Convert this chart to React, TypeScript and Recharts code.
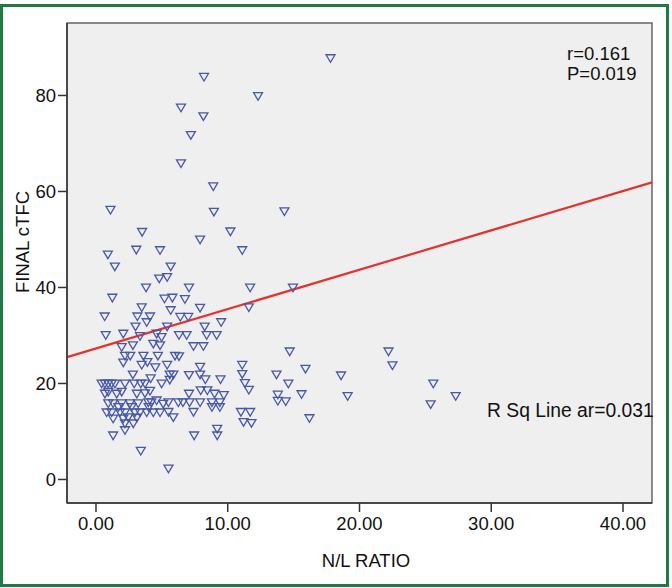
import React from 'react';
import { ScatterChart, Scatter, XAxis, YAxis, CartesianGrid, ReferenceArea, ReferenceLine } from 'recharts';

const nlRatio = [
  17.8, 8.2, 12.3, 6.45, 8.15, 7.2, 6.45, 8.9, 1.1, 8.95, 14.3, 3.5, 10.2, 7.9, 0.9, 3.06, 4.86, 11.1, 1.43, 5.67,
  4.8, 5.4, 3.8, 7.06, 11.7, 14.95, 1.24, 5.2, 5.8, 6.75, 11.6, 3.47, 5.67, 7.9, 0.66, 3.14, 4.1, 6.4, 7.0, 3.85,
  9.5, 3.0, 5.4, 8.25, 0.74, 2.07, 3.34, 4.6, 4.98, 6.3, 6.88, 8.4, 9.16, 1.95, 2.8, 4.35, 4.86, 7.4, 8.15, 2.2,
  2.6, 3.6, 4.7, 6.0, 6.3, 2.07, 3.9, 3.47, 4.5, 5.4, 7.9, 11.1, 2.8, 4.15, 5.6, 5.87, 7.06, 7.9, 11.1, 5.6,
  8.3, 9.45, 14.7, 22.2, 22.5, 15.9, 13.7, 18.6, 0.43, 0.68, 0.93, 1.19, 1.44, 2.2, 2.9, 3.4, 3.72, 4.98, 11.3, 14.6,
  25.6, 0.68, 0.93, 1.57, 1.95, 3.1, 3.72, 4.1, 4.6, 5.1, 7.06, 7.95, 8.45, 9.0, 9.7, 11.6, 13.8, 15.6, 19.1, 27.3,
  0.93, 1.3, 1.95, 2.58, 3.2, 3.97, 4.2, 5.5, 6.25, 6.6, 7.1, 7.9, 8.8, 9.4, 13.8, 14.4, 25.4, 1.7, 2.7, 4.0,
  8.8, 9.4, 0.81, 1.19, 1.82, 2.2, 2.96, 3.34, 3.85, 4.35, 4.86, 5.5, 7.4, 11.0, 11.7, 1.3, 2.07, 2.45, 3.1, 5.87,
  16.2, 2.2, 2.83, 11.2, 11.8, 2.2, 1.3, 7.45, 9.2, 9.2, 3.4, 5.5,
];

const finalCtfc = [
  87.8, 83.9, 79.9, 77.5, 75.7, 71.8, 65.9, 61.1, 56.2, 55.8, 55.9, 51.6, 51.7, 50.0, 46.9, 47.9, 47.8, 47.8, 44.4, 44.4,
  41.9, 42.2, 40.0, 40.0, 40.0, 40.0, 37.9, 37.7, 37.9, 37.6, 35.9, 35.9, 35.3, 35.8, 34.0, 34.0, 34.0, 33.9, 33.9, 32.8,
  32.8, 31.9, 31.9, 31.9, 30.1, 30.4, 29.9, 30.4, 29.7, 30.1, 30.1, 30.1, 30.1, 27.6, 28.0, 28.3, 28.0, 27.8, 27.8, 25.8,
  25.8, 25.8, 25.8, 25.8, 25.7, 24.4, 24.5, 23.9, 23.4, 23.9, 23.5, 23.9, 21.9, 21.1, 21.9, 21.9, 21.8, 21.9, 22.0, 20.8,
  20.9, 20.9, 26.7, 26.7, 23.8, 23.1, 21.9, 21.7, 20.0, 20.0, 20.0, 20.0, 20.0, 20.0, 20.0, 20.0, 20.0, 20.0, 20.1, 20.0,
  20.0, 17.9, 18.3, 17.9, 18.3, 17.9, 18.0, 18.5, 16.5, 15.8, 17.9, 18.6, 18.6, 17.9, 17.6, 18.7, 17.7, 17.8, 17.4, 17.4,
  15.9, 15.9, 15.9, 15.9, 15.9, 16.1, 16.1, 16.1, 16.1, 16.1, 16.1, 16.1, 16.1, 16.1, 16.4, 16.3, 15.7, 15.1, 15.1, 15.1,
  15.1, 15.1, 14.0, 14.0, 14.0, 14.0, 14.0, 14.0, 14.0, 14.0, 14.0, 14.1, 14.1, 14.1, 14.1, 12.7, 12.7, 13.0, 12.9, 13.0,
  12.8, 11.7, 11.7, 12.0, 11.8, 10.3, 9.2, 9.2, 10.6, 9.2, 6.0, 2.3,
];

const xTicks = [0, 10, 20, 30, 40];
const yTicks = [0, 20, 40, 60, 80];
const xDomain = [-2.2, 42.2];
const yDomain = [-4.9, 95.1];
const fitLineX = [-2.2, 42.2];
const fitLineY = [25.5, 61.9];
const statsLines = ['r=0.161', 'P=0.019'];
const rSqText = 'R Sq Line ar=0.031';
const xTitle = 'N/L RATIO';
const yTitle = 'FINAL cTFC';

const points = nlRatio.map((x, i) => ({ x, y: finalCtfc[i] }));

const FONT = '"Liberation Sans", Arial, Helvetica, sans-serif';

const Tri = (props: any) => {
  const { cx, cy } = props;
  if (cx == null || cy == null) return null;
  return (
    <path
      d={`M${cx - 4.5},${cy - 3.3}L${cx + 4.5},${cy - 3.3}L${cx},${cy + 4.3}Z`}
      fill="none"
      stroke="#4858a8"
      strokeWidth={1.3}
    />
  );
};

export default function App() {
  const tickStyle = { fontSize: 18.5, fill: '#111', fontFamily: FONT };
  return (
    <div style={{ position: 'absolute', left: 0, top: 0, width: 672, height: 588, background: '#fff' }}>
      <ScatterChart width={672} height={588} margin={{ top: 23, right: 20, bottom: 0, left: 0 }}>
        <CartesianGrid horizontal={false} vertical={false} fill="#efefef" fillOpacity={1} stroke="none" />
        <XAxis
          type="number"
          dataKey="x"
          domain={xDomain}
          ticks={xTicks}
          allowDataOverflow
          height={85}
          tickSize={9}
          tickMargin={5}
          tickFormatter={(v: number) => v.toFixed(2)}
          axisLine={{ stroke: '#333', strokeWidth: 1.5 }}
          tickLine={{ stroke: '#333', strokeWidth: 1.5 }}
          tick={tickStyle}
        />
        <YAxis
          type="number"
          dataKey="y"
          domain={yDomain}
          ticks={yTicks}
          allowDataOverflow
          width={67}
          tickSize={9}
          tickMargin={2}
          axisLine={{ stroke: '#333', strokeWidth: 1.5 }}
          tickLine={{ stroke: '#333', strokeWidth: 1.5 }}
          tick={tickStyle}
        />
        <ReferenceArea
          x1={xDomain[0]}
          x2={xDomain[1]}
          y1={yDomain[0]}
          y2={yDomain[1]}
          fill="none"
          stroke="#666"
          strokeWidth={1.5}
          ifOverflow="visible"
        />
        <Scatter data={points} shape={Tri} isAnimationActive={false} />
        <ReferenceLine
          segment={[
            { x: fitLineX[0], y: fitLineY[0] },
            { x: fitLineX[1], y: fitLineY[1] },
          ]}
          stroke="#e2332f"
          strokeWidth={2.2}
          ifOverflow="visible"
        />
      </ScatterChart>
      <svg
        width={672}
        height={588}
        style={{ position: 'absolute', left: 0, top: 0, pointerEvents: 'none' }}
      >
        <text x={567} y={60} fontSize={18.5} fontFamily={FONT} fill="#111">{statsLines[0]}</text>
        <text x={567} y={80} fontSize={18.5} fontFamily={FONT} fill="#111">{statsLines[1]}</text>
        <text x={487} y={417} fontSize={19.3} fontFamily={FONT} fill="#111">{rSqText}</text>
        <text x={366} y={567} fontSize={18.5} fontFamily={FONT} fill="#111" textAnchor="middle">{xTitle}</text>
        <text
          x={0}
          y={0}
          fontSize={18.5}
          fontFamily={FONT}
          fill="#111"
          textAnchor="middle"
          transform="translate(29,242) rotate(-90)"
        >
          {yTitle}
        </text>
      </svg>
      <div
        style={{
          position: 'absolute',
          left: 0,
          top: 4,
          width: 663,
          height: 577,
          border: '3.5px solid #217a45',
          pointerEvents: 'none',
        }}
      />
    </div>
  );
}
